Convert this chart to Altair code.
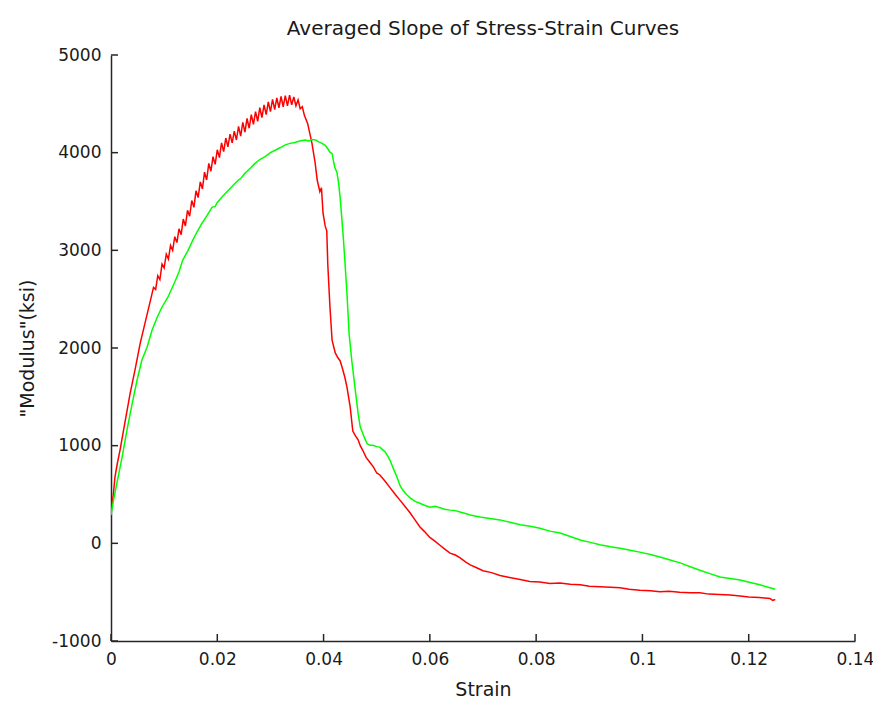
import altair as alt
import pandas as pd

# ---- data ----
red_x = [0.0, 0.0004, 0.00075, 0.0012, 0.0017, 0.0026, 0.0036, 0.0045, 0.0055, 0.0064, 0.0073,
         0.0080, 0.0084, 0.0088, 0.0092, 0.0096, 0.0100, 0.0104, 0.0108, 0.0112, 0.0116,
         0.0120, 0.0124, 0.0128, 0.0132, 0.0136, 0.0140, 0.0144, 0.0148, 0.0152, 0.0156,
         0.0160, 0.0164, 0.0168, 0.0172, 0.0176, 0.0180, 0.0184, 0.0188, 0.0192, 0.0196,
         0.0200, 0.0204, 0.0208, 0.0212, 0.0216, 0.0220, 0.0224, 0.0228, 0.0232, 0.0236,
         0.0240, 0.0244, 0.0248, 0.0252, 0.0256, 0.0260, 0.0264, 0.0268, 0.0272, 0.0276,
         0.0280, 0.0284, 0.0288, 0.0292, 0.0296, 0.0300, 0.0304, 0.0308, 0.0312, 0.0316,
         0.0320, 0.0324, 0.0328, 0.0332, 0.0336, 0.0340, 0.0344, 0.0348, 0.0352, 0.0356,
         0.0360, 0.0364,
         0.0370, 0.0374, 0.0378, 0.0384, 0.0388, 0.0393, 0.0396, 0.0399, 0.0403, 0.0406,
         0.0408, 0.0412, 0.0416, 0.0422, 0.0427, 0.0431, 0.0435, 0.0440, 0.0444, 0.0450,
         0.0455, 0.0460, 0.0465, 0.0469, 0.0474, 0.0480, 0.0487, 0.0494, 0.0500, 0.0506,
         0.0515, 0.0525, 0.0535, 0.0544, 0.0553, 0.0563, 0.0572, 0.0581, 0.0590, 0.0600,
         0.0610, 0.0619, 0.0628, 0.0638, 0.0648, 0.0657, 0.0667, 0.0676, 0.0688, 0.0700,
         0.0716, 0.0732, 0.0750, 0.0770, 0.0788, 0.0807, 0.0826, 0.0845, 0.0864, 0.0883,
         0.0900, 0.0920, 0.0940, 0.0958, 0.0975, 0.0995, 0.1015, 0.1033, 0.1050, 0.1070,
         0.1090, 0.1108, 0.1125, 0.1145, 0.1165, 0.1184, 0.1200, 0.1220, 0.1240, 0.1245,
         0.1250]
red_y = [330, 480, 680, 820, 955, 1230, 1535, 1770, 2050, 2255, 2460,
         2620, 2600, 2740, 2700, 2860, 2820, 2960, 2910, 3050, 3000,
         3140, 3080, 3220, 3160, 3320, 3250, 3410, 3350, 3510, 3440,
         3610, 3540, 3700, 3630, 3800, 3720, 3890, 3810, 3960, 3880,
         4030, 3950, 4100, 4010, 4150, 4060, 4190, 4100, 4220, 4130,
         4270, 4170, 4310, 4210, 4350, 4250, 4390, 4290, 4420, 4320,
         4460, 4360, 4490, 4390, 4520, 4420, 4545, 4440, 4560, 4460,
         4575, 4470, 4585, 4480, 4590, 4490, 4570, 4480, 4540, 4450,
         4470, 4380,
         4300, 4200, 4100, 3900, 3720, 3600, 3640, 3380, 3250, 3200,
         2850, 2420, 2080, 1950, 1900, 1870, 1800, 1700, 1600, 1400,
         1150, 1100, 1060, 1000, 950, 880, 830, 780, 720, 700,
         640, 570, 500, 440, 380, 310, 240, 170, 120, 60,
         20, -20, -60, -100, -120, -150, -190, -220, -250, -280,
         -300, -330, -350, -370, -390, -395, -410, -405, -420, -425,
         -440, -445, -450, -455, -470, -480, -485, -495, -490, -500,
         -505, -505, -520, -525, -530, -540, -550, -555, -565, -585,
         -575]

green_x = [0.0, 0.0005, 0.0011, 0.0016, 0.0021, 0.0030, 0.0040, 0.0049, 0.0058, 0.0068,
           0.0077, 0.0087, 0.0096, 0.0107, 0.0120, 0.0128, 0.0135, 0.0145, 0.0154, 0.0162,
           0.0171, 0.0180, 0.0190, 0.0196, 0.0200, 0.0211, 0.0222, 0.0233, 0.0240, 0.0245,
           0.0252, 0.0262, 0.0271, 0.0280, 0.0290, 0.0300, 0.0309, 0.0318, 0.0328, 0.0337,
           0.0346, 0.0355, 0.0365, 0.0372, 0.0378, 0.0385, 0.0391, 0.0397, 0.0403, 0.0408,
           0.0412, 0.0416, 0.0421, 0.0425, 0.0428, 0.0431, 0.0434, 0.0437, 0.0440, 0.0444,
           0.0448, 0.0453, 0.0459, 0.0465, 0.0469, 0.0472, 0.0477, 0.0482, 0.0487, 0.0493,
           0.0500, 0.0506, 0.0511, 0.0516, 0.0520, 0.0525, 0.0531, 0.0538, 0.0544, 0.0549,
           0.0556, 0.0563, 0.0572, 0.0581, 0.0590, 0.0600, 0.0610, 0.0619, 0.0628, 0.0638,
           0.0648, 0.0657, 0.0667, 0.0676, 0.0685, 0.0694, 0.0713, 0.0732, 0.0751, 0.0770,
           0.0789, 0.0807, 0.0826, 0.0845, 0.0864, 0.0883, 0.0902, 0.0920, 0.0940, 0.0958,
           0.0977, 0.0995, 0.1015, 0.1033, 0.1052, 0.1071, 0.1090, 0.1108, 0.1127, 0.1146,
           0.1165, 0.1184, 0.1203, 0.1221, 0.1240, 0.1250]
green_y = [290, 450, 615, 750, 885, 1160, 1435, 1670, 1875, 2010,
           2180, 2315, 2420, 2520, 2675, 2780, 2900, 3000, 3105, 3190,
           3275, 3350, 3440, 3450, 3490, 3560, 3620, 3685, 3720, 3740,
           3790, 3840, 3890, 3930, 3960, 4000, 4025, 4050, 4080, 4095,
           4105, 4120, 4130, 4120, 4135, 4130, 4110, 4095, 4075, 4040,
           4005, 3990, 3850, 3800, 3700, 3550, 3350, 3140, 2900, 2560,
           2150, 1875, 1600, 1330, 1190, 1150, 1080, 1020, 1005, 1005,
           990, 985, 960, 935, 900, 850, 770, 680, 590, 545,
           500, 465, 430, 410, 390, 370, 380, 365, 350, 340,
           335, 320, 305, 290, 280, 270, 255, 240, 215, 190,
           175, 155, 125, 105, 70, 35, 10, -15, -35, -50,
           -70, -90, -115, -140, -170, -200, -240, -275, -310, -345,
           -360, -375, -400, -425, -455, -470]

x_ticks = [0, 0.02, 0.04, 0.06, 0.08, 0.1, 0.12, 0.14]
y_ticks = [-1000, 0, 1000, 2000, 3000, 4000, 5000]
series_names = ["red", "green"]
series_colors = ["#ff0000", "#00ff00"]

# ---- build table ----
rows = []
for i, (xv, yv) in enumerate(zip(red_x, red_y)):
    rows.append({"x": xv, "y": yv, "s": "red", "i": i})
for i, (xv, yv) in enumerate(zip(green_x, green_y)):
    rows.append({"x": xv, "y": yv, "s": "green", "i": i})
df = pd.DataFrame(rows)
xt = pd.DataFrame({"v": x_ticks})
yt = pd.DataFrame({"v": y_ticks})

FONT = "DejaVu Sans"
W, H = 744, 586
xscale = alt.Scale(domain=[0, 0.14], nice=False, zero=False)
yscale = alt.Scale(domain=[-1000, 5000], nice=False, zero=False)
AX = "#262626"
TXT = "#1a1a1a"

lines = alt.Chart(df).mark_line(strokeWidth=1.5, clip=True).encode(
    x=alt.X("x:Q", scale=xscale,
            axis=alt.Axis(values=x_ticks, title="Strain", grid=False, ticks=False, tickSize=0,
                          labelPadding=10, labelFlush=False, labelOverlap=False,
                          labelExpr="'' + datum.value",
                          labelFont=FONT, labelFontSize=17, labelColor=TXT,
                          domainColor=AX, domainWidth=1.5,
                          titleFont=FONT, titleFontSize=19, titleFontWeight="normal", titleColor=TXT,
                          titleX=W / 2, titleY=48, titleBaseline="middle", titleAlign="center")),
    y=alt.Y("y:Q", scale=yscale,
            axis=alt.Axis(values=y_ticks, title='"Modulus"(ksi)', grid=False, ticks=False, tickSize=0,
                          labelPadding=10, labelFlush=False, labelOverlap=False,
                          labelExpr="'' + datum.value",
                          labelFont=FONT, labelFontSize=17, labelColor=TXT,
                          domainColor=AX, domainWidth=1.5,
                          titleFont=FONT, titleFontSize=19, titleFontWeight="normal", titleColor=TXT,
                          titleX=-84, titleY=H / 2, titleAngle=-90, titleBaseline="middle",
                          titleAlign="center")),
    color=alt.Color("s:N", scale=alt.Scale(domain=series_names, range=series_colors), legend=None),
    detail="s:N",
    order="i:Q",
)

xtick_rules = alt.Chart(xt).mark_rule(color=AX, strokeWidth=1.5).encode(
    x=alt.X("v:Q", scale=xscale),
    y=alt.value(H),
    y2=alt.value(H - 7),
)
ytick_rules = alt.Chart(yt).mark_rule(color=AX, strokeWidth=1.5).encode(
    y=alt.Y("v:Q", scale=yscale),
    x=alt.value(0),
    x2=alt.value(7),
)

chart = alt.layer(lines, xtick_rules, ytick_rules).properties(
    width=W, height=H,
    background="white",
    title=alt.TitleParams("Averaged Slope of Stress-Strain Curves", font=FONT, fontSize=20,
                          fontWeight="normal", color=TXT, anchor="middle",
                          frame="group", baseline="middle", offset=-3),
    autosize=alt.AutoSizeParams(type="none"),
    padding={"left": 103, "top": 47, "right": 18, "bottom": 58},
).configure_view(strokeWidth=0, stroke="transparent")

chart.save("out.html", embed_options={"renderer": "svg", "actions": False})
